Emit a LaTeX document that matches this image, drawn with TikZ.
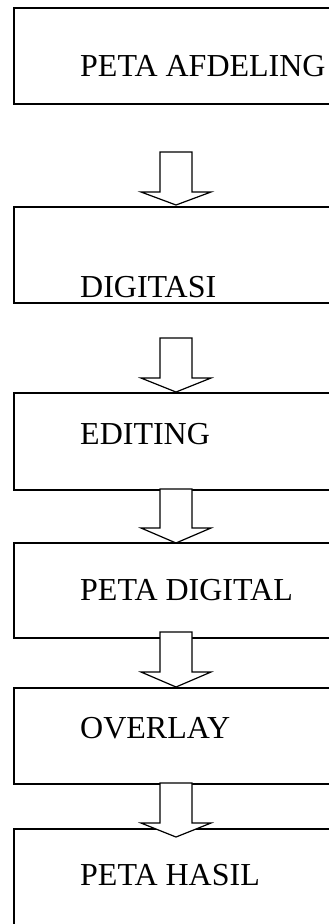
\documentclass[tikz,border=0pt]{standalone}
\usepackage{fontspec}
\setmainfont{Liberation Serif}
\begin{document}
\begin{tikzpicture}[x=1pt,y=-1pt,
  box/.style={draw=black,line width=1.8pt,rectangle,inner sep=0pt,anchor=north west,minimum width=327pt},
  lbl/.style={anchor=base west,inner sep=0pt,font=\fontsize{32}{36}\selectfont},
  blockarrow/.style={draw=black,fill=white,line width=1.2pt,line join=miter}]
\useasboundingbox (0,0) rectangle (329,924);
\clip (0,0) rectangle (329,924);
\fill[white] (0,0) rectangle (329,924);
% boxes
\node[box,minimum height=96pt] (b1) at (13,7) {};
\node[box,minimum height=96pt] (b2) at (13,206) {};
\node[box,minimum height=97pt] (b3) at (13,392) {};
\node[box,minimum height=95pt] (b4) at (13,542) {};
\node[box,minimum height=96pt] (b5) at (13,687) {};
\node[box,minimum height=99pt] (b6) at (13,828) {};
% labels
\node[lbl] (t1) at (80,76) {PETA AFDELING};
\node[lbl] (t2) at (80,297) {DIGITASI};
\node[lbl] (t3) at (80,444) {EDITING};
\node[lbl] (t4) at (80,600) {PETA DIGITAL};
\node[lbl] (t5) at (80,738) {OVERLAY};
\node[lbl] (t6) at (80,885) {PETA HASIL};
% block arrows
\newcommand{\blkarrow}[3]{%
  \draw[blockarrow] (160,#1) -- (192,#1) -- (192,#2) -- (211,#2) -- (176,#3)
    -- (141,#2) -- (160,#2) -- cycle;}
\blkarrow{152}{192}{205}
\blkarrow{338}{378}{392}
\blkarrow{489}{528}{543}
\blkarrow{632}{672}{687}
\blkarrow{783}{823}{837}
\end{tikzpicture}
\end{document}
